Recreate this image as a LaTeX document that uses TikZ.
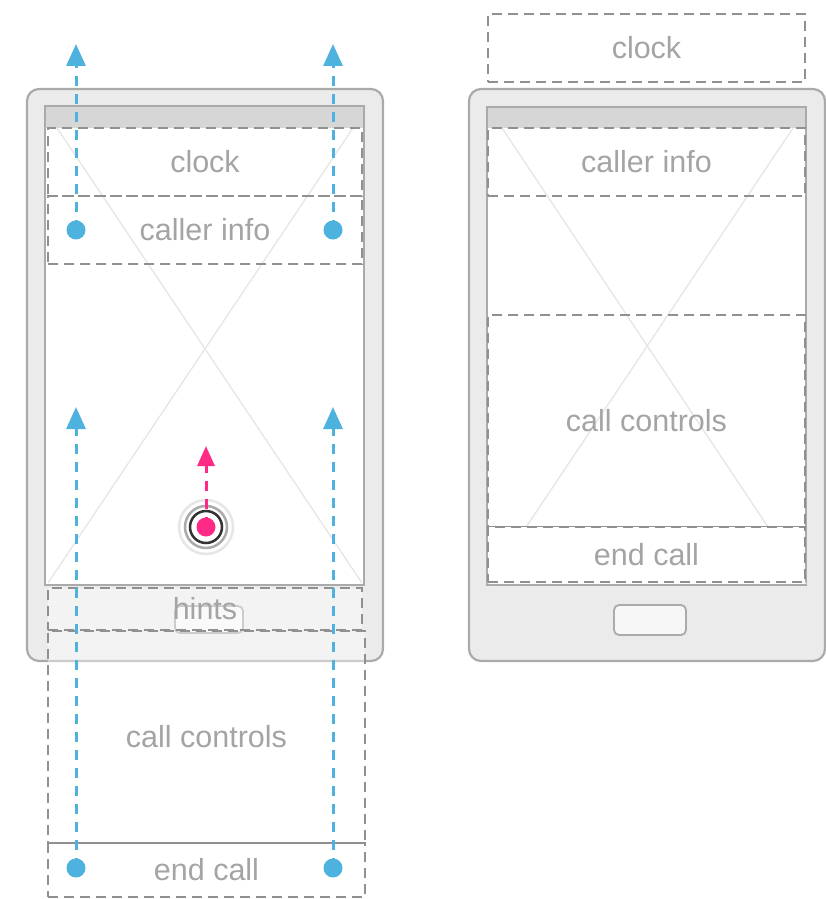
\documentclass[tikz,border=0pt]{standalone}
\usepackage{fontspec}
\setmainfont{Liberation Sans}
\usetikzlibrary{arrows.meta}
\definecolor{framegray}{HTML}{EBEBEB}
\definecolor{edgegray}{HTML}{AAAAAA}
\definecolor{bargray}{HTML}{D6D6D6}
\definecolor{dashgray}{HTML}{909090}
\definecolor{labelgray}{HTML}{A4A4A4}
\definecolor{crossgray}{HTML}{E6E6E6}
\definecolor{callblue}{HTML}{4DB2DE}
\definecolor{tappink}{HTML}{FF2A86}

\begin{document}
\begin{tikzpicture}[x=1pt,y=-1pt,
    phone/.style={fill=framegray, draw=edgegray, line width=2.2pt, rounded corners=12pt},
    screen/.style={fill=white, draw=edgegray, line width=1.8pt},
    homebtn/.style={fill=white!97!black, draw=edgegray, line width=1.8pt, rounded corners=5pt},
    zone/.style={draw=dashgray, dash pattern=on 10pt off 6pt, line width=2.6pt,
      text=labelgray, inner sep=0pt, font=\fontsize{30.5}{37}\selectfont},
    veil/.style={fill=white, fill opacity=0.4, text opacity=1},
    flow/.style={draw=callblue, line width=3pt, dash pattern=on 10pt off 8pt,
      -{Triangle[length=22pt,width=19pt]}},
  ]
      \useasboundingbox (0,0) rectangle (826,899);

      % Left phone
      \draw[phone] (27,89) rectangle (383,661);
      \draw[screen] (45,106) rectangle (364,585);
      \fill[bargray] (46,107) rectangle (363,128);
      \draw[crossgray, line width=1.3pt] (57,128) -- (362,583);
      \draw[crossgray, line width=1.3pt] (353,128) -- (48,583);
      \draw[homebtn] (175,606) rectangle (243,633);

      % Right phone
      \draw[phone] (469,89) rectangle (825,661);
      \draw[screen] (487,107) rectangle (806,585);
      \fill[bargray] (488,108) rectangle (805,128);
      \draw[crossgray, line width=1.3pt] (502,128) -- (806,584);
      \draw[crossgray, line width=1.3pt] (793,128) -- (488,584);
      \draw[homebtn] (614,605) rectangle (686,635);

      % Zones of the left layout
      \node[zone, minimum width=314pt, minimum height=68pt] (clockL) at (205,162) {clock};
      \node[zone, minimum width=314pt, minimum height=68pt] (callerL) at (205,230) {caller info};
      \node[zone, veil, minimum width=314pt, minimum height=42pt] (hintsL) at (205,609) {hints};
      \node[zone, veil, minimum width=317pt, minimum height=212pt] (controlsL) at (206.5,737) {call controls};
      \node[zone, minimum width=317pt, minimum height=54pt] (endL) at (206.5,870) {end call};

      % Zones of the right layout
      \node[zone, minimum width=317pt, minimum height=68pt] (clockR) at (646.5,48) {clock};
      \node[zone, minimum width=317pt, minimum height=68pt] (callerR) at (646.5,162) {caller info};
      \node[zone, minimum width=317pt, minimum height=212pt] (controlsR) at (646.5,421) {call controls};
      \node[zone, fill=white, minimum width=317pt, minimum height=55pt] (endR) at (646.5,554.5) {end call};

      % Swipe paths
      \coordinate (d1) at (76,230);
      \coordinate (t1) at (76,44);
      \coordinate (d2) at (333,230);
      \coordinate (t2) at (333,44);
      \coordinate (d3) at (76,868);
      \coordinate (t3) at (76,407);
      \coordinate (d4) at (333,868);
      \coordinate (t4) at (333,407);

      \draw[flow] (d1) -- (t1);
      \draw[flow] (d2) -- (t2);
      \draw[flow] (d3) -- (t3);
      \draw[flow] (d4) -- (t4);
      \foreach \d in {d1,d2,d3,d4}
        \fill[callblue] (\d) circle (9.5pt);

      % Touch point
      \coordinate (P) at (206,527);
      \coordinate (Q) at (206,446);
      \draw[crossgray, line width=2.5pt] (P) circle (27pt);
      \draw[edgegray, line width=2.5pt] (P) circle (21pt);
      \draw[black!80, line width=2.5pt] (P) circle (16pt);
      \draw[flow, draw=tappink, -{Triangle[length=20pt,width=17pt]}, tappink] (P) -- (Q);
      \fill[tappink] (P) circle (9.5pt);
\end{tikzpicture}
\end{document}
